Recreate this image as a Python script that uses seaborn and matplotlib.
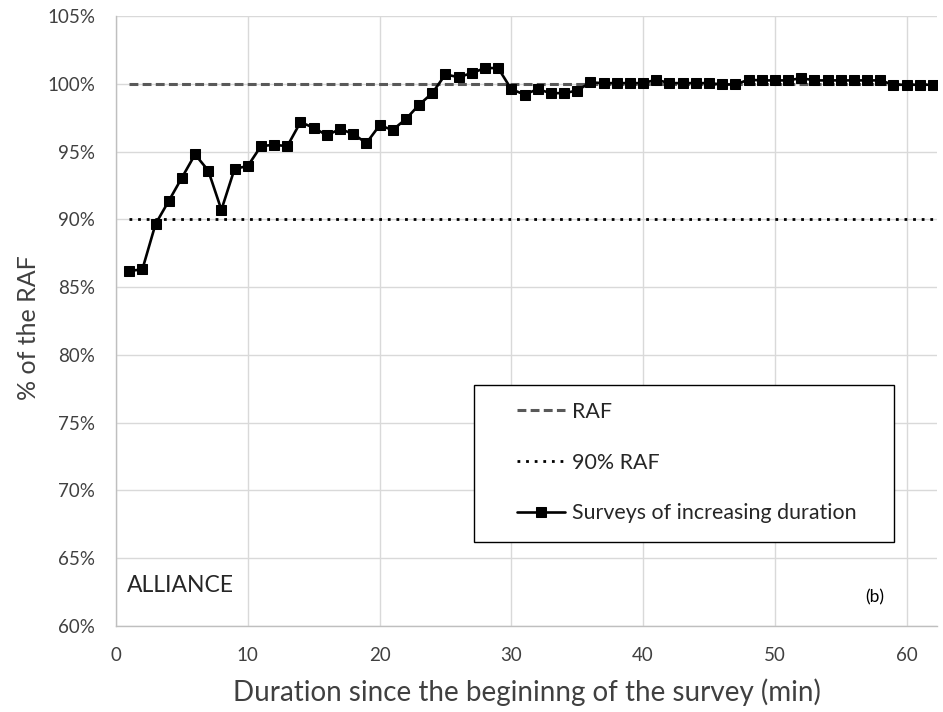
import matplotlib
matplotlib.use("Agg")
import matplotlib.pyplot as plt
import seaborn as sns
import pandas as pd
from matplotlib.ticker import FuncFormatter
from matplotlib.patches import Rectangle

# ---- data ----
minutes = list(range(1, 63))
survey_pct = [86.2, 86.3, 89.65, 91.35, 93.07, 94.79, 93.6, 90.7, 93.73, 93.93,
              95.4, 95.5, 95.4, 97.17, 96.76, 96.2, 96.66, 96.31, 95.62, 96.93,
              96.6, 97.4, 98.45, 99.31, 100.69, 100.49, 100.79, 101.16, 101.16, 99.6,
              99.21, 99.6, 99.31, 99.31, 99.5, 100.1, 100.05, 100.05, 100.05, 100.05,
              100.3, 100.05, 100.05, 100.05, 100.05, 99.95, 99.95, 100.3, 100.25, 100.25,
              100.25, 100.42, 100.25, 100.25, 100.25, 100.25, 100.25, 100.25, 99.93, 99.93,
              99.93, 99.93]
raf_pct = [100.0] * len(minutes)
raf90_pct = [90.0] * len(minutes)
y_ticks = [60, 65, 70, 75, 80, 85, 90, 95, 100, 105]
x_ticks = [0, 10, 20, 30, 40, 50, 60]

df = pd.DataFrame({"minute": minutes, "survey": survey_pct,
                   "raf": raf_pct, "raf90": raf90_pct})

sns.set_theme(style="white")
plt.rcParams["font.family"] = ["Lato", "DejaVu Sans"]

fig = plt.figure(figsize=(9.43, 7.12), dpi=100)
ax = fig.add_axes([0.123, 0.1208, 0.8706, 0.8567])

sns.lineplot(data=df, x="minute", y="raf", ax=ax, color="#595959", lw=2.2,
             linestyle=(0, (2.9, 1.4)), label="RAF")
sns.lineplot(data=df, x="minute", y="raf90", ax=ax, color="black", lw=2.0,
             linestyle=(0, (1.0, 2.1)), label="90% RAF")
sns.lineplot(data=df, x="minute", y="survey", ax=ax, color="black", lw=1.9,
             marker="s", markersize=7.5, markeredgecolor="black",
             markerfacecolor="black", label="Surveys of increasing duration")

ax.set_xlim(0, 62.3)
ax.set_ylim(60, 105)
ax.set_xticks(x_ticks)
ax.set_yticks(y_ticks)
ax.yaxis.set_major_formatter(FuncFormatter(lambda v, p: f"{v:.0f}%"))
ax.grid(True, color="#d9d9d9", lw=1.0)
ax.set_axisbelow(True)
for s in ["top", "right"]:
    ax.spines[s].set_visible(False)
for s in ["left", "bottom"]:
    ax.spines[s].set_color("#bfbfbf")
    ax.spines[s].set_linewidth(1.0)
ax.tick_params(axis="x", length=0, labelsize=13.5, pad=15)
ax.tick_params(axis="y", length=0, labelsize=13.5, pad=15)
for lab in ax.get_xticklabels() + ax.get_yticklabels():
    lab.set_color("#404040")

ax.set_xlabel("Duration since the begininng of the survey (min)", fontsize=20,
              color="#404040")
ax.xaxis.set_label_coords(0.5006, -0.108)
ax.xaxis.label.set_va("center")
ax.set_ylabel("% of the RAF", fontsize=18, color="#404040")
ax.yaxis.set_label_coords(-0.106, 0.489)
ax.yaxis.label.set_va("center")

ax.text(0.013, 0.066, "ALLIANCE", transform=ax.transAxes, fontsize=16.5,
        color="#262626", ha="left", va="center")
ax.text(0.913, 0.047, "(b)", transform=ax.transAxes, fontsize=12.5,
        color="black", ha="left", va="center")

# legend box
ax.add_patch(Rectangle((0.436, 0.1377), 0.5116, 0.2573, transform=ax.transAxes,
                       facecolor="white", edgecolor="black", lw=1.0, zorder=5))
leg = ax.legend(loc="center left", bbox_to_anchor=(0.4884, 0.268),
                frameon=False, fontsize=15.4, labelspacing=1.43, borderpad=0,
                handlelength=2.25, handletextpad=0.33, borderaxespad=0)
leg.set_zorder(6)
for t in leg.get_texts():
    t.set_color("#262626")

fig.savefig("out.png", dpi=100)
